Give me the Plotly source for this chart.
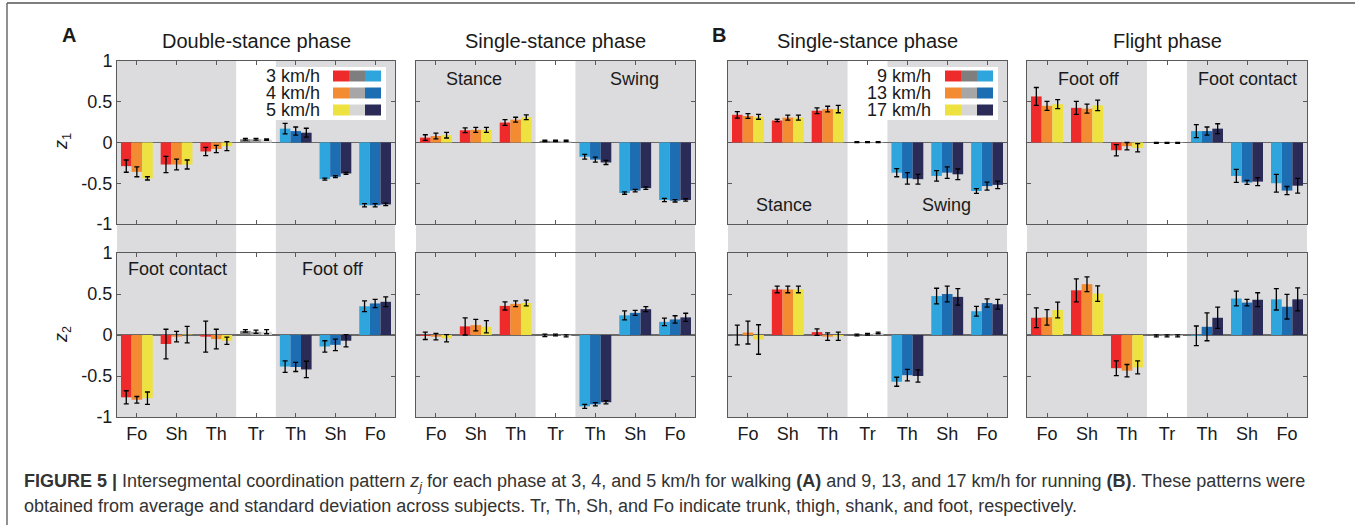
import plotly.graph_objects as go

W, H = 1355, 525

# ---------------- data ----------------
categories = ["Fo", "Sh", "Th", "Tr", "Th", "Sh", "Fo"]
walk_speeds = ["3 km/h", "4 km/h", "5 km/h"]
run_speeds = ["9 km/h", "13 km/h", "17 km/h"]
y_ticks = [-1, -0.5, 0, 0.5, 1]
y_ticktext = ["-1", "-0.5", "0", "0.5", "1"]

# Walking, double-stance phase
A_ds_z1 = [[-0.29, -0.27, -0.11, 0.04, 0.17, -0.45, -0.77],
           [-0.36, -0.27, -0.08, 0.04, 0.14, -0.42, -0.77],
           [-0.44, -0.27, -0.045, 0.035, 0.12, -0.38, -0.76]]
A_ds_z1_sd = [[0.075, 0.10, 0.05, 0.01, 0.065, 0.012, 0.02],
              [0.06, 0.065, 0.045, 0.01, 0.05, 0.012, 0.02],
              [0.02, 0.055, 0.055, 0.008, 0.055, 0.012, 0.015]]
A_ds_z2 = [[-0.76, -0.11, -0.02, 0.05, -0.385, -0.14, 0.35],
           [-0.79, -0.02, -0.05, 0.04, -0.39, -0.12, 0.385],
           [-0.77, 0.005, -0.07, 0.04, -0.42, -0.07, 0.405]]
A_ds_z2_sd = [[0.08, 0.18, 0.19, 0.015, 0.07, 0.07, 0.065],
              [0.04, 0.065, 0.12, 0.02, 0.055, 0.07, 0.05],
              [0.075, 0.10, 0.045, 0.025, 0.10, 0.075, 0.06]]

# Walking, single-stance phase
A_ss_z1 = [[0.06, 0.15, 0.245, 0.02, -0.175, -0.62, -0.705],
           [0.08, 0.155, 0.28, 0.02, -0.21, -0.59, -0.715],
           [0.09, 0.155, 0.31, 0.02, -0.245, -0.56, -0.705]]
A_ss_z1_sd = [[0.035, 0.03, 0.035, 0.008, 0.03, 0.015, 0.02],
              [0.035, 0.03, 0.03, 0.008, 0.03, 0.015, 0.015],
              [0.035, 0.03, 0.03, 0.008, 0.025, 0.015, 0.015]]
A_ss_z2 = [[-0.01, 0.105, 0.355, -0.005, -0.87, 0.24, 0.16],
           [-0.02, 0.12, 0.38, 0.0, -0.845, 0.27, 0.19],
           [-0.04, 0.10, 0.39, -0.01, -0.82, 0.315, 0.215]]
A_ss_z2_sd = [[0.045, 0.105, 0.05, 0.015, 0.025, 0.055, 0.045],
              [0.04, 0.07, 0.035, 0.01, 0.02, 0.03, 0.045],
              [0.045, 0.075, 0.035, 0.012, 0.02, 0.03, 0.05]]

# Running, single-stance phase
B_ss_z1 = [[0.34, 0.27, 0.39, 0.005, -0.37, -0.41, -0.595],
           [0.325, 0.305, 0.41, 0.005, -0.44, -0.37, -0.535],
           [0.315, 0.305, 0.41, 0.005, -0.45, -0.39, -0.52]]
B_ss_z1_sd = [[0.04, 0.015, 0.035, 0.005, 0.05, 0.065, 0.03],
              [0.03, 0.03, 0.035, 0.005, 0.07, 0.07, 0.05],
              [0.03, 0.03, 0.045, 0.005, 0.06, 0.065, 0.045]]
B_ss_z2 = [[0.0, 0.555, 0.035, 0.0, -0.57, 0.475, 0.29],
           [0.03, 0.555, -0.02, 0.01, -0.49, 0.50, 0.39],
           [-0.055, 0.555, -0.015, 0.025, -0.50, 0.465, 0.375]]
B_ss_z2_sd = [[0.12, 0.04, 0.04, 0.01, 0.055, 0.095, 0.06],
              [0.14, 0.04, 0.045, 0.01, 0.07, 0.095, 0.05],
              [0.18, 0.04, 0.05, 0.01, 0.075, 0.10, 0.06]]

# Running, flight phase
B_fl_z1 = [[0.565, 0.425, -0.095, -0.005, 0.14, -0.41, -0.50],
           [0.45, 0.415, -0.045, -0.005, 0.14, -0.49, -0.59],
           [0.47, 0.455, -0.065, -0.005, 0.17, -0.48, -0.53]]
B_fl_z1_sd = [[0.11, 0.08, 0.07, 0.006, 0.08, 0.08, 0.11],
              [0.055, 0.055, 0.045, 0.006, 0.05, 0.025, 0.05],
              [0.055, 0.065, 0.05, 0.006, 0.06, 0.05, 0.09]]
B_fl_z2 = [[0.21, 0.545, -0.405, -0.01, -0.01, 0.445, 0.435],
           [0.215, 0.62, -0.435, -0.01, 0.10, 0.395, 0.345],
           [0.305, 0.505, -0.395, -0.01, 0.21, 0.43, 0.435]]
B_fl_z2_sd = [[0.12, 0.14, 0.09, 0.012, 0.12, 0.09, 0.13],
              [0.095, 0.09, 0.075, 0.012, 0.17, 0.04, 0.15],
              [0.095, 0.095, 0.08, 0.012, 0.13, 0.085, 0.14]]

# ---------------- styles ----------------
warm = ["#EE2A2B", "#F28B31", "#EDE23F"]
grays = ["#7E7E7E", "#A6A6A6", "#D6D6D6"]
cool = ["#2EA5DC", "#1D6DB3", "#2A2B57"]
shade = "#DCDCDE"
frame = "#5a5a5a"
txt = "#1a1a1a"
FONT = "Liberation Sans, Arial, Helvetica, sans-serif"

def PX(p):
    return p / W

def PY(p):
    return 1 - p / H

col_px = [(117, 395), (416, 695), (728, 1007), (1027, 1307)]
row_px = [(61, 224), (253, 417)]

panels = [  # (values, sd, col, row)
    (A_ds_z1, A_ds_z1_sd, 0, 0), (A_ss_z1, A_ss_z1_sd, 1, 0),
    (B_ss_z1, B_ss_z1_sd, 2, 0), (B_fl_z1, B_fl_z1_sd, 3, 0),
    (A_ds_z2, A_ds_z2_sd, 0, 1), (A_ss_z2, A_ss_z2_sd, 1, 1),
    (B_ss_z2, B_ss_z2_sd, 2, 1), (B_fl_z2, B_fl_z2_sd, 3, 1),
]

xpos = list(range(1, len(categories) + 1))
fig = go.Figure()
layout = {}
for i, (vals, sds, c, r) in enumerate(panels):
    n = i + 1
    sfx = "" if n == 1 else str(n)
    for s in range(3):
        colors = [warm[s]] * 3 + [grays[s]] + [cool[s]] * 3
        fig.add_trace(go.Bar(
            x=xpos, y=vals[s], xaxis="x" + sfx, yaxis="y" + sfx,
            marker=dict(color=colors, line=dict(width=0)),
            error_y=dict(type="data", array=sds[s], color="black",
                         thickness=1.3, width=2.5),
            showlegend=False, offsetgroup=str(s),
        ))
    x0, x1 = col_px[c]
    y0, y1 = row_px[r]
    layout["xaxis" + sfx] = dict(
        domain=[PX(x0), PX(x1)], anchor="y" + sfx, range=[0.5, 7.5],
        tickvals=xpos, ticktext=categories, showticklabels=(r == 1),
        ticks="inside", ticklen=4, tickcolor=frame, mirror="ticks",
        showline=True, linecolor=frame, linewidth=1, showgrid=False,
        zeroline=False, tickfont=dict(size=18, color=txt, family=FONT),
        fixedrange=True, automargin=False,
    )
    layout["yaxis" + sfx] = dict(
        domain=[PY(y1), PY(y0)], anchor="x" + sfx, range=[-1, 1],
        tickvals=y_ticks, ticktext=y_ticktext, showticklabels=(c == 0),
        ticks="inside", ticklen=4, tickcolor=frame, mirror="ticks",
        showline=True, linecolor=frame, linewidth=1, showgrid=False,
        zeroline=True, zerolinecolor="#6a6a6a", zerolinewidth=1.2,
        tickfont=dict(size=18, color=txt, family=FONT), fixedrange=True,
        automargin=False,
    )

shapes = []
# gray shading spanning both rows, white band at trunk
for c in range(4):
    sfx = "" if c == 0 else str(c + 1)
    for (a, b) in [(0.5, 3.5), (4.5, 7.5)]:
        shapes.append(dict(type="rect", xref="x" + sfx, yref="paper",
                           x0=a, x1=b, y0=PY(row_px[1][1]), y1=PY(row_px[0][0]),
                           fillcolor=shade, line=dict(width=0), layer="below"))

annotations = []

def ann(text, x, y, size=18, bold=False, xanchor="center", angle=0, color=txt):
    annotations.append(dict(
        text=f"<b>{text}</b>" if bold else text, x=PX(x), y=PY(y),
        xref="paper", yref="paper", xanchor=xanchor, yanchor="middle",
        showarrow=False, textangle=angle,
        font=dict(size=size, color=color, family=FONT)))

# legends
def legend(box, text_right, sw_left, labels):
    bx0, bx1 = box
    shapes.append(dict(type="rect", xref="paper", yref="paper",
                       x0=PX(bx0), x1=PX(bx1), y0=PY(120), y1=PY(67),
                       fillcolor="white", line=dict(width=0), layer="below"))
    for k, yc in enumerate([76, 93, 110]):
        ann(labels[k], text_right, yc, xanchor="right")
        for j, col in enumerate([warm[k], grays[k], cool[k]]):
            shapes.append(dict(type="rect", xref="paper", yref="paper",
                               x0=PX(sw_left + 16 * j), x1=PX(sw_left + 16 * (j + 1)),
                               y0=PY(yc + 5.5), y1=PY(yc - 5.5),
                               fillcolor=col, line=dict(width=0), layer="below"))

legend((263, 386), 322, 333, walk_speeds)
legend((866, 998), 933, 945, run_speeds)

# border of the figure box
shapes.append(dict(type="line", xref="paper", yref="paper", x0=PX(7), x1=1,
                   y0=PY(3), y1=PY(3), line=dict(color="#555", width=1.3)))
shapes.append(dict(type="line", xref="paper", yref="paper", x0=PX(7), x1=PX(7),
                   y0=PY(3), y1=0, line=dict(color="#555", width=1.3)))

# titles
ann("Double-stance phase", 256, 41, size=20)
ann("Single-stance phase", 555.5, 41, size=20)
ann("Single-stance phase", 867.5, 41, size=20)
ann("Flight phase", 1167, 41, size=20)
ann("A", 69, 35, size=20, bold=True)
ann("B", 719, 35, size=20, bold=True)

# in-panel labels
ann("Stance", 474, 79)
ann("Swing", 634, 79)
ann("Foot contact", 177, 269)
ann("Foot off", 333, 269)
ann("Stance", 784, 205)
ann("Swing", 946, 205)
ann("Foot off", 1089, 79)
ann("Foot contact", 1247, 79)

# y axis titles
ann("<i>z</i><sub>1</sub>", 62, 142, angle=-90)
ann("<i>z</i><sub>2</sub>", 62, 335, angle=-90)

# caption
cap1 = ("<b>FIGURE 5 |</b> Intersegmental coordination pattern <i>z<sub>j</sub></i> "
        "for each phase at 3, 4, and 5 km/h for walking <b>(A)</b> and 9, 13, and "
        "17 km/h for running <b>(B)</b>. These patterns were")
cap2 = ("obtained from average and standard deviation across subjects. Tr, Th, Sh, "
        "and Fo indicate trunk, thigh, shank, and foot, respectively.")
ann(cap1, 22, 482, size=18, xanchor="left", color="#333")
ann(cap2, 22, 506, size=18, xanchor="left", color="#333")

fig.update_layout(
    width=W, height=H, autosize=False,
    margin=dict(l=0, r=0, t=0, b=0, pad=0, autoexpand=False),
    paper_bgcolor="white", plot_bgcolor="rgba(0,0,0,0)",
    barmode="group", bargap=0.2, bargroupgap=0,
    showlegend=False, shapes=shapes, annotations=annotations,
    font=dict(family=FONT, color=txt),
    **layout,
)

fig.write_html("out.html",
               config={"displayModeBar": False, "staticPlot": True},
               post_script="document.body.style.margin='0px';")
